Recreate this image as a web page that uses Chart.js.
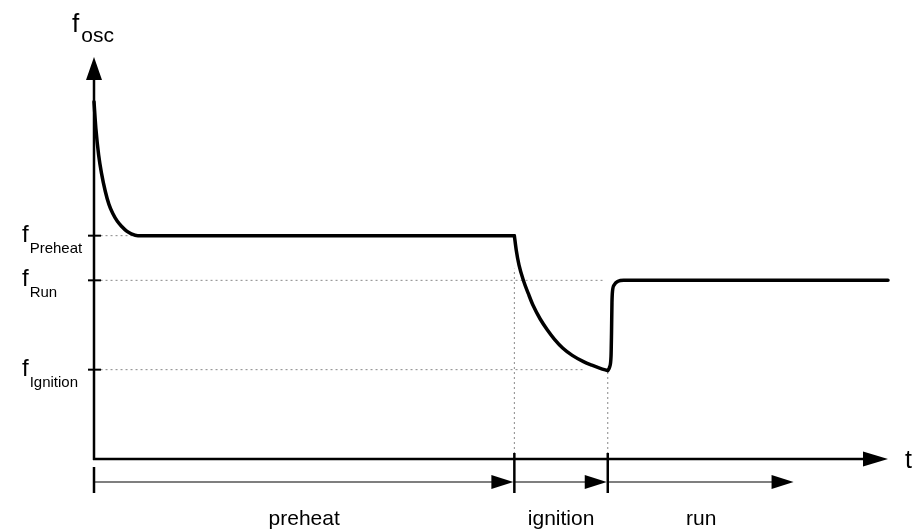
<!DOCTYPE html>
<html>
<head>
<meta charset="utf-8">
<script src="https://cdn.jsdelivr.net/npm/chart.js@4/dist/chart.umd.min.js"></script>
<style>
  html, body { margin: 0; padding: 0; background: #fff; }
  #wrap { width: 916px; height: 531px; }
</style>
</head>
<body>
<div id="wrap"><canvas id="c" width="916" height="531"></canvas></div>
<script>
// ---- data ----
// preheat phase: oscillator frequency falls from start value to f_Preheat and stays there
const preheatTime = [0.00, 0.02, 0.05, 0.08, 0.12, 0.16, 0.20, 0.25, 0.30, 0.35, 0.40, 0.47, 4.50];
const preheatFreq = [4.00, 3.70, 3.40, 3.20, 3.00, 2.85, 2.75, 2.66, 2.60, 2.55, 2.52, 2.50, 2.50];
// ignition phase: sweep down towards f_Ignition
const ignitionTime = [4.50, 4.52, 4.55, 4.60, 4.65, 4.70, 4.775, 4.85, 4.93, 5.02, 5.12, 5.24, 5.33, 5.42, 5.50];
const ignitionFreq = [2.50, 2.34, 2.17, 1.99, 1.85, 1.72, 1.57, 1.45, 1.34, 1.24, 1.16, 1.09, 1.05, 1.015, 0.99];
// run phase: jump to f_Run
const runTime = [5.50, 5.52, 5.535, 5.54, 5.545, 5.55, 5.57, 5.61, 5.67, 8.50];
const runFreq = [0.99, 1.03, 1.15, 1.40, 1.75, 1.87, 1.95, 1.99, 2.00, 2.00];

const levelNames  = ['Preheat', 'Run', 'Ignition'];
const levelValues = [2.5, 2.0, 1.0];
const levelGuideEnd = [0.49, 5.45, 5.26];   // where each dotted level line stops (time)

const phaseNames  = ['preheat', 'ignition', 'run'];
const phaseBounds = [0, 4.5, 5.5, 7.5];     // phase borders / end of last arrow (time)
const phaseGuideTop = [2.13, 1.0];          // top of the vertical dotted lines at 4.5 and 5.5

const axisMaxTime = 8.5;
const axisMaxFreq = 4.5;
const yAxisTitle = 'f';
const yAxisSub = 'osc';
const xAxisTitle = 't';
const levelPrefix = 'f';

// ---- build datasets ----
function toPts(ts, fs) { return ts.map((t, i) => ({ x: t, y: fs[i] })); }
const curveStyle = {
  borderColor: '#000',
  borderWidth: 3.5,
  pointRadius: 0,
  cubicInterpolationMode: 'monotone',
  fill: false,
  clip: false,
  borderCapStyle: 'round',
  borderJoinStyle: 'round'
};
const datasets = [
  Object.assign({ data: toPts(preheatTime, preheatFreq) }, curveStyle),
  Object.assign({ data: toPts(ignitionTime, ignitionFreq) }, curveStyle),
  Object.assign({ data: toPts(runTime, runFreq) }, curveStyle)
];
const dotStyle = { borderColor: '#888', borderWidth: 1, borderDash: [2, 3], pointRadius: 0, fill: false, clip: false, tension: 0 };
levelValues.forEach((v, i) => {
  datasets.push(Object.assign({ data: [{ x: 0.07, y: v }, { x: levelGuideEnd[i], y: v }] }, dotStyle));
});
phaseBounds.slice(1, 3).forEach((b, i) => {
  datasets.push(Object.assign({ data: [{ x: b, y: 0 }, { x: b, y: phaseGuideTop[i] }] }, dotStyle));
});

const FONT = '"Liberation Sans", Arial, Helvetica, sans-serif';

function arrowHead(ctx, tipX, tipY, dir, len, half) {
  ctx.beginPath();
  if (dir === 'right') {
    ctx.moveTo(tipX, tipY);
    ctx.lineTo(tipX - len, tipY - half);
    ctx.lineTo(tipX - len, tipY + half);
  } else {
    ctx.moveTo(tipX, tipY);
    ctx.lineTo(tipX - half, tipY + len);
    ctx.lineTo(tipX + half, tipY + len);
  }
  ctx.closePath();
  ctx.fill();
}

const decor = {
  id: 'decor',
  afterDatasetsDraw(chart) {
    const ctx = chart.ctx;
    const xs = chart.scales.x, ys = chart.scales.y;
    const x0 = xs.getPixelForValue(0);
    const y0 = ys.getPixelForValue(0);
    const xTip = xs.getPixelForValue(axisMaxTime);
    const yTip = ys.getPixelForValue(axisMaxFreq);
    ctx.save();
    ctx.fillStyle = '#000';
    ctx.strokeStyle = '#000';
    ctx.lineCap = 'butt';
    // axes
    ctx.lineWidth = 2.5;
    ctx.beginPath();
    ctx.moveTo(x0, y0 + 1);
    ctx.lineTo(x0, yTip + 20);
    ctx.moveTo(x0 - 1, y0);
    ctx.lineTo(xTip - 20, y0);
    ctx.stroke();
    arrowHead(ctx, x0, yTip, 'up', 23, 8);
    arrowHead(ctx, xTip, y0, 'right', 25, 7.5);

    // level ticks + labels
    ctx.lineWidth = 2;
    levelValues.forEach((v, i) => {
      const py = ys.getPixelForValue(v);
      ctx.beginPath();
      ctx.moveTo(x0 - 6, py);
      ctx.lineTo(x0 + 7, py);
      ctx.stroke();
      ctx.textBaseline = 'alphabetic';
      ctx.textAlign = 'left';
      ctx.font = '24px ' + FONT;
      const fx = 22;
      ctx.fillText(levelPrefix, fx, py + 6);
      const fw = ctx.measureText(levelPrefix).width;
      ctx.font = '15px ' + FONT;
      ctx.fillText(levelNames[i], fx + fw + 1, py + 17);
    });

    // axis titles
    ctx.font = '26px ' + FONT;
    ctx.fillText(yAxisTitle, 72, 32);
    const tw = ctx.measureText(yAxisTitle).width;
    ctx.font = '21px ' + FONT;
    ctx.fillText(yAxisSub, 72 + tw + 2, 42);
    ctx.font = '25px ' + FONT;
    ctx.fillText(xAxisTitle, 905, y0 + 9);

    // phase arrows
    const ay = y0 + 23;
    ctx.lineWidth = 2.5;
    phaseBounds.slice(0, 3).forEach((b, i) => {
      const px = xs.getPixelForValue(b);
      ctx.beginPath();
      ctx.moveTo(px, i === 0 ? y0 + 8 : y0 - 6);
      ctx.lineTo(px, y0 + 34);
      ctx.stroke();
    });
    ctx.lineWidth = 1.2;
    for (let i = 0; i < 3; i++) {
      const a = xs.getPixelForValue(phaseBounds[i]);
      const b = xs.getPixelForValue(phaseBounds[i + 1]);
      ctx.beginPath();
      ctx.moveTo(a, ay);
      ctx.lineTo(b - 18, ay);
      ctx.stroke();
      arrowHead(ctx, b - 1, ay, 'right', 22, 7);
      ctx.font = '21px ' + FONT;
      ctx.textAlign = 'center';
      ctx.fillText(phaseNames[i], (a + b) / 2, y0 + 66);
    }
    ctx.restore();
  }
};

new Chart(document.getElementById('c'), {
  type: 'line',
  data: { datasets },
  options: {
    responsive: false,
    animation: false,
    devicePixelRatio: 1,
    layout: { padding: { left: 94, right: 28, top: 57, bottom: 72 } },
    plugins: { legend: { display: false }, tooltip: { enabled: false } },
    scales: {
      x: { type: 'linear', min: 0, max: axisMaxTime, display: false },
      y: { type: 'linear', min: 0, max: axisMaxFreq, display: false }
    }
  },
  plugins: [decor]
});
</script>
</body>
</html>
